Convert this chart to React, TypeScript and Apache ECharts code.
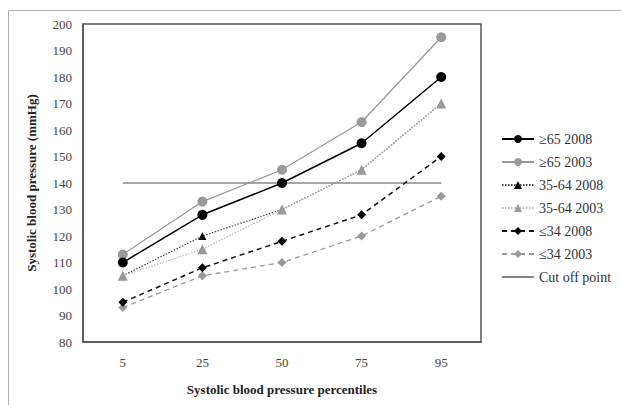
import React, { useEffect, useRef } from "react";
import * as echarts from "echarts";

const categories = ["5", "25", "50", "75", "95"];
const s65_2008 = [110, 128, 140, 155, 180];
const s65_2003 = [113, 133, 145, 163, 195];
const s3564_2008 = [105, 120, 130, 145, 170];
const s3564_2003 = [105, 115, 130, 145, 170];
const s34_2008 = [95, 108, 118, 128, 150];
const s34_2003 = [93, 105, 110, 120, 135];
const cutoff = [140, 140, 140, 140, 140];
const yTicks = { min: 80, max: 200, interval: 10 };

const FONT = "Liberation Serif";

export default function App() {
  const ref = useRef<HTMLDivElement>(null);
  useEffect(() => {
    if (!ref.current) return;
    const chart = echarts.init(ref.current, undefined, { renderer: "svg" });
    const mk = (name: string, data: number[], color: string, lineColor: string, type: any, symbol: string, size: number, width: number) => ({
      name,
      type: "line",
      data,
      symbol,
      symbolSize: size,
      itemStyle: { color },
      lineStyle: { color: lineColor, type, width },
      z: 3,
    });
    chart.setOption({
      animation: false,
      backgroundColor: "#ffffff",
      textStyle: { fontFamily: FONT },
      graphic: [
        {
          type: "rect",
          shape: { x: 8.5, y: 10.5, width: 640, height: 420 },
          style: { fill: "none", stroke: "#b0b0b0", lineWidth: 1 },
          silent: true,
        },
      ],
      grid: {
        left: 83,
        top: 24,
        right: 140,
        bottom: 63,
        show: true,
        borderColor: "#555",
        borderWidth: 1.5,
        backgroundColor: "transparent",
      },
      legend: {
        orient: "vertical",
        left: 501,
        top: 132,
        padding: 0,
        itemWidth: 32,
        itemHeight: 10,
        itemGap: 9,
        textStyle: { fontFamily: "Liberation Serif", fontSize: 14, color: "#333" },
        data: [
          "≥65 2008",
          "≥65 2003",
          "35-64 2008",
          "35-64 2003",
          "≤34 2008",
          "≤34 2003",
          { name: "Cut off point", itemStyle: { opacity: 0 } },
        ],
      },
      xAxis: {
        type: "category",
        data: categories,
        boundaryGap: true,
        axisTick: { show: false },
        axisLine: { show: true, lineStyle: { color: "#555", width: 1.5 } },
        axisLabel: { margin: 14, fontFamily: FONT, fontSize: 13, color: "#444" },
        name: "Systolic blood pressure percentiles",
        nameLocation: "middle",
        nameGap: 41,
        nameTextStyle: { fontFamily: FONT, fontSize: 13, fontWeight: "bold", color: "#222" },
      },
      yAxis: {
        type: "value",
        min: yTicks.min,
        max: yTicks.max,
        interval: yTicks.interval,
        splitLine: { show: false },
        axisTick: { show: false },
        axisLine: { show: true, lineStyle: { color: "#555", width: 1.5 } },
        axisLabel: { margin: 11, fontFamily: FONT, fontSize: 13, color: "#444" },
        name: "Systolic blood pressure (mmHg)",
        nameLocation: "middle",
        nameGap: 45,
        nameRotate: 90,
        nameTextStyle: { fontFamily: FONT, fontSize: 13, fontWeight: "bold", color: "#222" },
      },
      series: [
        {
          name: "Cut off point",
          type: "line",
          data: cutoff,
          symbol: "circle",
          showSymbol: false,
          itemStyle: { color: "#888" },
          lineStyle: { color: "#888", width: 1.5, type: "solid" },
          z: 1,
        },
        mk("≤34 2003", s34_2003, "#999", "#999", [5, 4], "diamond", 9, 1.3),
        mk("≤34 2008", s34_2008, "#000", "#111", [5, 4], "diamond", 9, 1.5),
        mk("35-64 2008", s3564_2008, "#000", "#444", [1.5, 1.5], "triangle", 8, 1.2),
        mk("35-64 2003", s3564_2003, "#999", "#bbb", [1.5, 1.5], "triangle", 10, 1.2),
        mk("≥65 2003", s65_2003, "#999", "#999", "solid", "circle", 10, 1.3),
        mk("≥65 2008", s65_2008, "#000", "#000", "solid", "circle", 10, 1.5),
      ],
    });
    return () => chart.dispose();
  }, []);
  return <div ref={ref} style={{ position: "fixed", left: 0, top: 0, width: 621, height: 405 }} />;
}
